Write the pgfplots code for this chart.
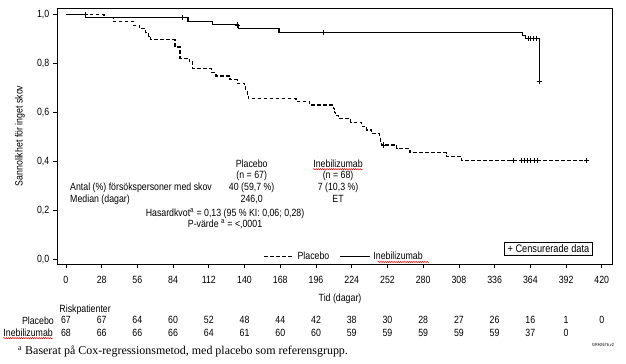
\documentclass[border=0pt]{standalone}
\usepackage{fontspec}
\setmainfont{Liberation Sans}[FakeStretch=0.84]
\newfontfamily\seriffont{Liberation Serif}
\usepackage{pgfplots}
\usepackage{pgfplotstable}
\pgfplotsset{compat=1.18}
\usetikzlibrary{decorations.pathmorphing}

\pgfplotstableread{
x y
0 1.000
29.8 0.985
37.1 0.970
52.8 0.955
58.0 0.940
62.5 0.925
65.0 0.910
66.4 0.896
85.5 0.866
89.4 0.821
96.7 0.806
99.3 0.778
114.2 0.762
117.6 0.748
128.6 0.733
134.3 0.718
140.0 0.703
141.0 0.688
142.0 0.673
143.0 0.658
180.3 0.645
190.7 0.630
209.6 0.615
210.6 0.600
211.6 0.586
213.5 0.573
223.2 0.559
231.8 0.543
235.7 0.528
239.6 0.513
245.6 0.498
246.5 0.483
247.3 0.467
259.2 0.451
269.7 0.435
298.4 0.419
310.2 0.403
408.2 0.403
}\placebo

\pgfplotstableread{
x y
248.8 0.467
350.5 0.403
357.0 0.403
359.0 0.403
361.5 0.403
364.0 0.403
367.0 0.403
369.5 0.403
408.2 0.403
}\placebocens

\pgfplotstableread{
x y
0 1.000
15.5 0.985
95.7 0.970
114.7 0.956
135.0 0.941
167.0 0.926
358.0 0.913
360.4 0.902
371.0 0.725
}\inebi

\pgfplotstableread{
x y
15.0 1.000
91.5 0.985
134.3 0.956
201.7 0.926
362.5 0.902
364.3 0.902
366.5 0.902
368.5 0.902
371.0 0.725
}\inebicens

\begin{document}
\fontsize{10.5}{12.5}\selectfont
\begin{tikzpicture}[x=1bp,y=1bp]
\path[use as bounding box] (0,0) rectangle (626,363);
\begin{axis}[
  at={(57bp,99bp)}, anchor=south west,
  scale only axis, width=555bp, height=256bp,
  xmin=-7, xmax=428, ymin=-0.018, ymax=1.025,
  clip=false,
  xtick={0,28,...,420},
  ytick={0,0.2,0.4,0.6,0.8,1},
  tick align=outside, tick pos=left,
  major tick length=4bp,
  every tick/.style={black, line width=0.8bp},
  axis line style={line width=0.9bp},
  /pgf/number format/assume math mode=true,
  yticklabel style={/pgf/number format/.cd, fixed, fixed zerofill, precision=1, use comma},
  xticklabel style={yshift=-5bp},
  xlabel={Tid (dagar)},
  xlabel style={at={(axis description cs:0.51,0)}, anchor=center, yshift=-34.3bp},
  ylabel={Sannolikhet för inget skov},
  ylabel style={at={(axis description cs:-0.0667,0.5)}, anchor=center},
  legend style={draw=none, fill=none, at={(axis description cs:0.3717,0.0285)}, anchor=west,
    legend columns=-1, inner sep=0pt,
    /tikz/every even column/.append style={column sep=8bp},
    /tikz/every odd column/.append style={column sep=1bp}},
  legend image code/.code={\draw[#1] (0bp,0bp) -- (30bp,0bp);},
]
\addplot[const plot, black, line width=1.1bp, dash pattern=on 3.5bp off 2.5bp, forget plot] table {\placebo};
\addplot[only marks, mark=+, mark size=2.6bp, black, line width=0.8bp, forget plot] table {\placebocens};
\addplot[const plot, black, line width=1.1bp, forget plot] table {\inebi};
\addplot[only marks, mark=+, mark size=2.6bp, black, line width=0.8bp, forget plot] table {\inebicens};
\addlegendimage{black, line width=1.1bp, dash pattern=on 3.5bp off 2.5bp}
\addlegendentry{Placebo}
\addlegendimage{black, line width=1.1bp}
\addlegendentry{Inebilizumab}

% text block
\node[anchor=base] at (axis cs:145.6,0.3749) {Placebo};
\node[anchor=base] at (axis cs:145.6,0.3301) {(n = 67)};
\node[anchor=base] at (axis cs:145.6,0.2812) {40 (59,7 \%)};
\node[anchor=base] at (axis cs:145.6,0.2343) {246,0};
\node[anchor=base, inner sep=0pt] (ineH) at (axis cs:213.3,0.3749) {Inebilizumab};
\node[anchor=base] at (axis cs:213.3,0.3301) {(n = 68)};
\node[anchor=base] at (axis cs:213.3,0.2812) {7 (10,3 \%)};
\node[anchor=base] at (axis cs:213.3,0.2343) {ET};
\node[anchor=base west, inner sep=0pt] at (axis cs:3.2,0.2812) {Antal (\%) försökspersoner med skov};
\node[anchor=base west, inner sep=0pt] at (axis cs:3.2,0.2343) {Median (dagar)};
\node[anchor=base] at (axis cs:124.7,0.1752) {Hasardkvot\textsuperscript{a} = 0,13 (95 \% KI: 0,06; 0,28)};
\node[anchor=base] at (axis cs:124.7,0.1304) {P-värde \textsuperscript{a} = <,0001};
\node[draw, line width=0.7bp, inner xsep=3bp, inner ysep=2.2bp, font=\fontsize{11}{13}\selectfont] at (axis cs:378.2,0.043) {+ Censurerade data};

% risk table
\node[anchor=base] at (axis cs:0,-0.2624) {67};
\node[anchor=base] at (axis cs:28,-0.2624) {67};
\node[anchor=base] at (axis cs:56,-0.2624) {64};
\node[anchor=base] at (axis cs:84,-0.2624) {60};
\node[anchor=base] at (axis cs:112,-0.2624) {52};
\node[anchor=base] at (axis cs:140,-0.2624) {48};
\node[anchor=base] at (axis cs:168,-0.2624) {44};
\node[anchor=base] at (axis cs:196,-0.2624) {42};
\node[anchor=base] at (axis cs:224,-0.2624) {38};
\node[anchor=base] at (axis cs:252,-0.2624) {30};
\node[anchor=base] at (axis cs:280,-0.2624) {28};
\node[anchor=base] at (axis cs:308,-0.2624) {27};
\node[anchor=base] at (axis cs:336,-0.2624) {26};
\node[anchor=base] at (axis cs:364,-0.2624) {16};
\node[anchor=base] at (axis cs:392,-0.2624) {1};
\node[anchor=base] at (axis cs:420,-0.2624) {0};
\node[anchor=base] at (axis cs:0,-0.3134) {68};
\node[anchor=base] at (axis cs:28,-0.3134) {66};
\node[anchor=base] at (axis cs:56,-0.3134) {66};
\node[anchor=base] at (axis cs:84,-0.3134) {66};
\node[anchor=base] at (axis cs:112,-0.3134) {64};
\node[anchor=base] at (axis cs:140,-0.3134) {61};
\node[anchor=base] at (axis cs:168,-0.3134) {60};
\node[anchor=base] at (axis cs:196,-0.3134) {60};
\node[anchor=base] at (axis cs:224,-0.3134) {59};
\node[anchor=base] at (axis cs:252,-0.3134) {59};
\node[anchor=base] at (axis cs:280,-0.3134) {59};
\node[anchor=base] at (axis cs:308,-0.3134) {59};
\node[anchor=base] at (axis cs:336,-0.3134) {59};
\node[anchor=base] at (axis cs:364,-0.3134) {37};
\node[anchor=base] at (axis cs:392,-0.3134) {0};
\end{axis}

\node[anchor=base west, inner sep=0pt] at (59.3,50.4) {Riskpatienter};
\node[anchor=base east, inner sep=0pt] at (54,39) {Placebo};
\node[anchor=base east, inner sep=0pt] (ineR) at (53,26.5) {Inebilizumab};
\node[anchor=base west, inner sep=0pt, font=\seriffont\fontsize{12}{14}\selectfont] at (18,8.5) {\textsuperscript{a} Baserat på Cox-regressionsmetod, med placebo som referensgrupp.};
\node[anchor=center, inner sep=0pt, font=\fontsize{4.5}{5}\selectfont] at (603,18) {GRH2676 v2};

\tikzset{squig/.style={red, line width=0.5bp, decorate, decoration={snake, amplitude=0.6bp, segment length=2.2bp}}}
\draw[squig] ([yshift=-1.6bp]ineH.base west) -- ([yshift=-1.6bp]ineH.base east);
\draw[squig] ([yshift=-1.6bp]ineR.base west) -- ([yshift=-1.6bp]ineR.base east);
\draw[squig] (378,101) -- (429,101);
\end{tikzpicture}
\end{document}
